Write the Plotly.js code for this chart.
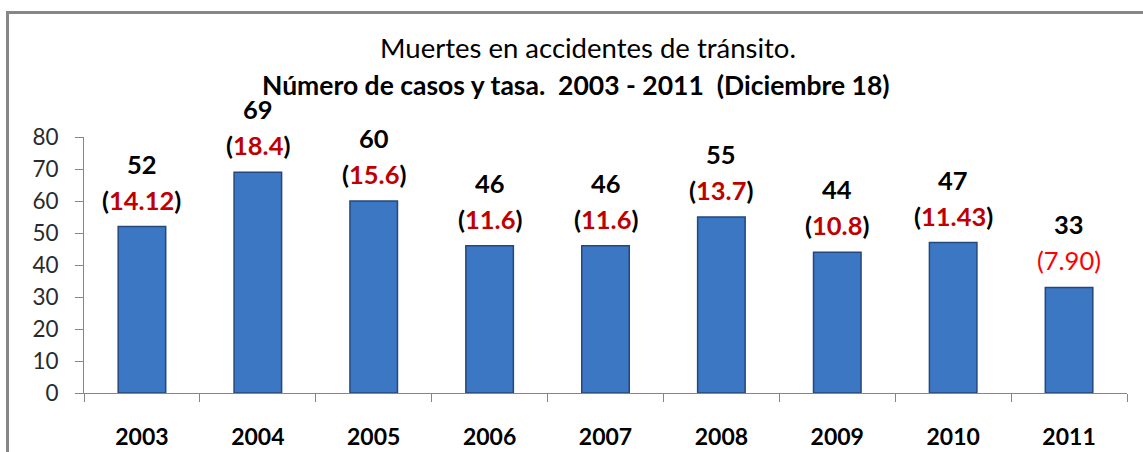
<!DOCTYPE html>
<html>
<head>
<meta charset="utf-8">
<script src="https://cdn.plot.ly/plotly-3.0.1.min.js"></script>
<style>
html,body{margin:0;padding:0;background:#fff;}
#chart{width:1143px;height:452px;position:relative;}
#frame{position:absolute;left:6px;top:11px;width:1200px;height:500px;border-left:3px solid #878787;border-top:3px solid #878787;pointer-events:none;}
</style>
</head>
<body>
<div id="chart"></div>
<div id="frame"></div>
<script>
const years = ['2003','2004','2005','2006','2007','2008','2009','2010','2011'];
const deaths = [52, 69, 60, 46, 46, 55, 44, 47, 33];
const rates = ['14.12','18.4','15.6','11.6','11.6','13.7','10.8','11.43','7.90'];
const yTicks = [0,10,20,30,40,50,60,70,80];
const titleLine1 = 'Muertes en accidentes de tránsito.';
const titleLine2 = 'Número de casos y tasa.  2003 - 2011  (Diciembre 18)';

const FONT = 'Lato, "Open Sans", sans-serif';

const trace = {
  type: 'bar',
  x: years,
  y: deaths,
  width: 0.41,
  marker: {color: '#3c77c3', line: {color: '#24487d', width: 1.5}},
  hoverinfo: 'x+y'
};

const annotations = [];
years.forEach((yr, i) => {
  const last = i === years.length - 1;
  annotations.push({
    x: i, y: deaths[i], xref: 'x', yref: 'y',
    text: '<b>' + deaths[i] + '</b>',
    showarrow: false, yanchor: 'middle', yshift: 63,
    font: {family: FONT, size: 25.5, color: '#000'}
  });
  annotations.push({
    x: i, y: deaths[i], xref: 'x', yref: 'y',
    text: last ? '(' + rates[i] + ')'
               : '<b>(<span style="color:#c00000">' + rates[i] + '</span>)</b>',
    showarrow: false, yanchor: 'middle', yshift: 27,
    font: {family: FONT, size: 25.5, color: last ? '#ff0000' : '#000'}
  });
});
annotations.push({
  xref: 'paper', yref: 'paper', x: (576 - 84) / 1043, y: (393 - 85) / 256,
  xanchor: 'center', yanchor: 'middle', showarrow: false,
  text: '<b>' + titleLine2 + '</b>',
  font: {family: FONT, size: 26.5, color: '#000'}
});

const layout = {
  width: 1143, height: 452,
  margin: {l: 84, r: 16, t: 137, b: 59, pad: 0},
  paper_bgcolor: '#fff', plot_bgcolor: '#fff',
  showlegend: false,
  title: {
    text: titleLine1,
    font: {family: FONT, size: 27.5, color: '#000'},
    x: (588 - 84) / 1043, xanchor: 'center', xref: 'paper',
    y: 1 - 48/452, yanchor: 'middle', yref: 'container'
  },
  xaxis: {
    type: 'category',
    range: [-0.5, years.length - 0.5],
    tickfont: {family: FONT, size: 23, color: '#000', weight: 'bold'},
    showline: true, linecolor: '#868686', linewidth: 1,
    ticks: 'outside', tickson: 'boundaries', ticklen: 8, tickcolor: '#868686',
    ticklabelstandoff: 23,
    showgrid: false, zeroline: false
  },
  yaxis: {
    range: [0, 80],
    tickvals: yTicks,
    tickfont: {family: FONT, size: 22.5, color: '#2a2a2a'},
    showline: true, linecolor: '#868686', linewidth: 1,
    ticks: 'outside', ticklen: 8, tickcolor: '#868686',
    ticklabelstandoff: 12,
    showgrid: false, zeroline: false
  },
  annotations: annotations
};

Plotly.newPlot('chart', [trace], layout, {displayModeBar: false, staticPlot: true});
</script>
</body>
</html>
